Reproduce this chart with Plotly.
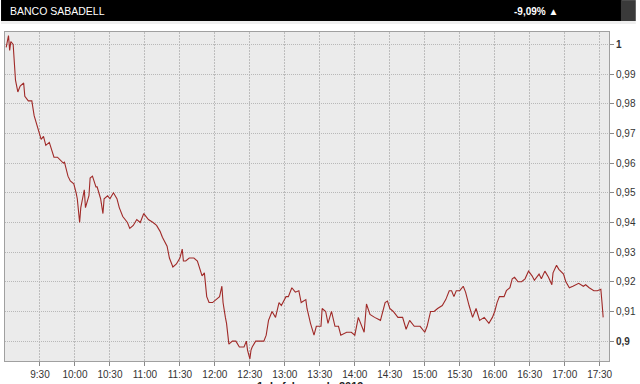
import plotly.graph_objects as go

DATE = "2019-02-01"
times = ["09:01","09:03","09:04","09:05","09:07","09:08","09:09","09:11","09:13","09:16","09:17","09:20","09:23","09:25","09:28",
         "09:31","09:33","09:35","09:38","09:42","09:45","09:50","09:51","09:54","09:56","09:59",
         "10:01","10:02","10:04","10:05","10:07","10:08","10:09","10:12","10:13","10:15","10:18","10:19","10:22","10:24","10:25","10:28",
         "10:30","10:33","10:36","10:38","10:41","10:45","10:47","10:50","10:53","10:56","10:59",
         "11:03","11:07","11:10","11:13","11:15","11:19","11:21","11:24","11:27","11:30","11:32","11:33","11:35","11:38","11:40","11:42","11:45","11:47","11:49","11:51","11:53","11:55","11:58",
         "12:01","12:04","12:06","12:07","12:09","12:10","12:12","12:15","12:18","12:21","12:25","12:27","12:28","12:30","12:31","12:32","12:35","12:38","12:42","12:44","12:46","12:49","12:52","12:55","12:57",
         "13:01","13:03","13:06","13:09","13:12","13:14","13:18","13:19","13:22","13:25","13:27","13:31","13:32","13:35","13:37","13:40","13:43","13:46","13:48","13:53","13:57",
         "14:00","14:03","14:05","14:08","14:10","14:13","14:17","14:22","14:26","14:28","14:30","14:33","14:37","14:41","14:44","14:47","14:51","14:56",
         "15:00","15:02","15:05","15:08","15:11","15:15","15:18","15:21","15:23","15:25","15:27","15:30","15:33","15:35","15:38","15:41","15:44","15:47","15:51","15:55","15:58",
         "16:00","16:02","16:04","16:08","16:10","16:13","16:15","16:17","16:20","16:23","16:26","16:29","16:32","16:34","16:38","16:40","16:43","16:46","16:49","16:50","16:53","16:55","16:59",
         "17:01","17:04","17:07","17:10","17:12","17:16","17:18","17:21","17:25","17:28","17:31","17:32","17:33"]
prices = [0.999,1.003,0.998,1.001,1.000,0.994,0.988,0.984,0.986,0.987,0.9825,0.981,0.981,0.976,0.972,
          0.968,0.969,0.966,0.967,0.962,0.962,0.960,0.9603,0.9556,0.954,0.953,
          0.950,0.948,0.940,0.945,0.949,0.951,0.945,0.949,0.955,0.9556,0.952,0.952,0.948,0.943,0.948,0.949,
          0.948,0.950,0.948,0.945,0.942,0.940,0.938,0.939,0.941,0.940,0.943,
          0.941,0.940,0.939,0.937,0.935,0.932,0.928,0.925,0.926,0.928,0.931,0.927,0.927,0.928,0.928,0.928,0.927,0.924,0.922,0.923,0.915,0.913,0.913,
          0.914,0.915,0.9185,0.913,0.908,0.906,0.899,0.900,0.900,0.898,0.898,0.900,0.897,0.894,0.897,0.898,0.900,0.900,0.900,0.902,0.907,0.910,0.908,0.913,0.912,
          0.915,0.915,0.918,0.9165,0.917,0.913,0.914,0.911,0.906,0.902,0.905,0.905,0.911,0.910,0.906,0.910,0.905,0.905,0.902,0.903,0.903,
          0.902,0.908,0.906,0.903,0.9125,0.909,0.908,0.907,0.913,0.9135,0.911,0.910,0.908,0.908,0.904,0.907,0.905,0.905,
          0.903,0.905,0.910,0.910,0.911,0.912,0.914,0.917,0.917,0.915,0.917,0.917,0.9185,0.9165,0.912,0.908,0.911,0.907,0.908,0.906,0.908,
          0.910,0.913,0.915,0.915,0.917,0.918,0.921,0.9215,0.920,0.920,0.921,0.9236,0.922,0.9205,0.9226,0.921,0.9236,0.9216,0.919,0.923,0.9256,0.9242,0.9226,
          0.920,0.918,0.9185,0.919,0.9195,0.9185,0.919,0.918,0.917,0.917,0.9175,0.913,0.908]

x_ticks = ["09:30","10:00","10:30","11:00","11:30","12:00","12:30","13:00","13:30","14:00","14:30","15:00","15:30","16:00","16:30","17:00","17:30"]
x_tick_labels = ["9:30","10:00","10:30","11:00","11:30","12:00","12:30","13:00","13:30","14:00","14:30","15:00","15:30","16:00","16:30","17:00","17:30"]
y_ticks = [0.90,0.91,0.92,0.93,0.94,0.95,0.96,0.97,0.98,0.99,1.00]
y_tick_labels = ["<b>0,9</b>","0,91","0,92","0,93","0,94","0,95","0,96","0,97","0,98","0,99","<b>1</b>"]

title_text = "BANCO SABADELL"
change_text = "-9,09%"
date_text = "1 de febrero de 2019"

xs = [f"{DATE} {t}" for t in times]

fig = go.Figure()
fig.add_trace(go.Scatter(x=xs, y=prices, mode="lines",
                         line=dict(color="#a02a28", width=1.1), hoverinfo="skip"))

W, H = 640, 384
L, R, T, B = 4, 27, 32, 22
pw, ph = W - L - R, H - T - B

def px(xp):
    return (xp - L) / pw

def py(yp):
    return (H - B - yp) / ph

fig.update_layout(
    width=W, height=H,
    margin=dict(l=L, r=R, t=T, b=B, pad=0),
    paper_bgcolor="white", plot_bgcolor="#ebebeb",
    showlegend=False,
    font=dict(family="Liberation Sans, Arial", size=10, color="#333333"),
    xaxis=dict(type="date", range=[f"{DATE} 09:00", f"{DATE} 17:38"],
               tickvals=[f"{DATE} {t}" for t in x_ticks], ticktext=x_tick_labels,
               showgrid=True, gridcolor="#bdbdbd", griddash="2px,1px", gridwidth=1,
               ticks="outside", ticklen=4, tickcolor="#888888",
               showline=True, linecolor="#a0a0a0", linewidth=1, mirror=True,
               zeroline=False, tickfont=dict(size=10, color="#333333")),
    yaxis=dict(range=[0.8933, 1.0042], side="right",
               tickvals=y_ticks, ticktext=y_tick_labels,
               showgrid=True, gridcolor="#b8b8b8", griddash="1px,1px", gridwidth=1,
               ticks="outside", ticklen=4, tickcolor="#888888",
               showline=True, linecolor="#a0a0a0", linewidth=1, mirror=True,
               zeroline=False, tickfont=dict(size=10, color="#333333")),
    shapes=[
        dict(type="rect", xref="paper", yref="paper", x0=px(0), x1=px(626), y0=py(21), y1=py(0),
             fillcolor="black", line=dict(width=0), layer="above"),
        dict(type="rect", xref="paper", yref="paper", x0=px(625), x1=px(640), y0=py(21), y1=py(0),
             fillcolor="#3a3a3a", line=dict(width=0), layer="above"),
        dict(type="rect", xref="paper", yref="paper", x0=px(0), x1=px(640), y0=py(24), y1=py(21),
             fillcolor="#eeeeee", line=dict(width=0), layer="above"),
    ],
    annotations=[
        dict(text=title_text, xref="paper", yref="paper", x=px(7), y=py(11), xanchor="left", yanchor="middle",
             showarrow=False, font=dict(size=10.5, color="white", family="Liberation Sans Narrow, Liberation Sans, Arial")),
        dict(text=f"<b>{change_text}</b> ▲", xref="paper", yref="paper", x=px(564), y=py(11), xanchor="right", yanchor="middle",
             showarrow=False, font=dict(size=10, color="white", family="Liberation Sans Narrow, Liberation Sans, Arial")),
        dict(text=f"<b>{date_text}</b>", xref="paper", yref="paper", x=px(312), y=py(379), xanchor="center", yanchor="top",
             showarrow=False, font=dict(size=11, color="#222222")),
    ],
)

fig.write_html("out.html")
